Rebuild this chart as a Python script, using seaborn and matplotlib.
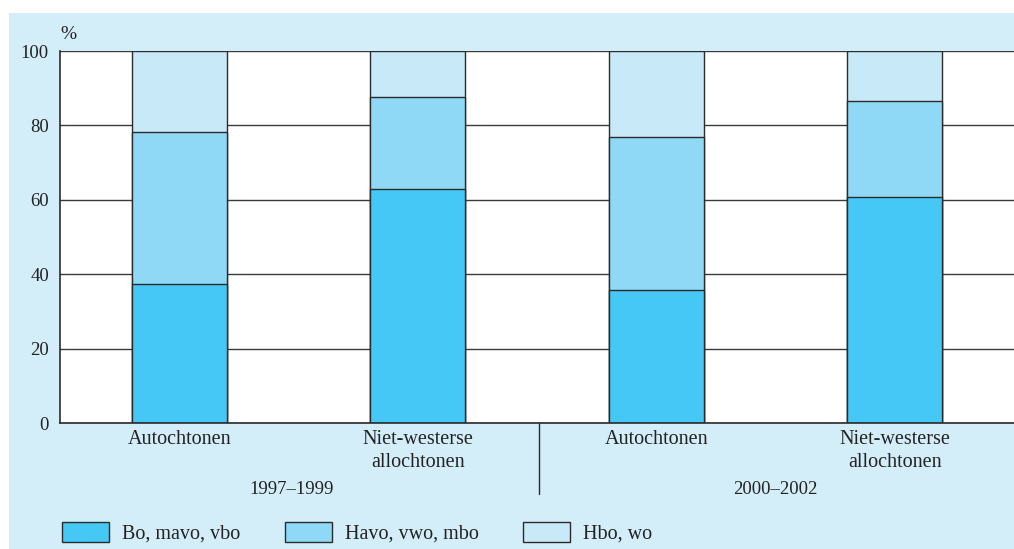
import seaborn as sns
import matplotlib.pyplot as plt
from matplotlib.patches import Patch, Rectangle
import pandas as pd

# data (percentages)
groepen = ["Autochtonen 97", "Niet-westerse 97", "Autochtonen 00", "Niet-westerse 00"]
tick_labels = ["Autochtonen", "Niet-westerse\nallochtonen", "Autochtonen", "Niet-westerse\nallochtonen"]
perioden = ["1997–1999", "2000–2002"]
bo_mavo_vbo = [37.3, 62.8, 35.7, 60.8]
havo_vwo_mbo = [41.0, 24.9, 41.2, 25.8]
hbo_wo = [21.7, 12.3, 23.1, 13.4]
reeksen = ["Bo, mavo, vbo", "Havo, vwo, mbo", "Hbo, wo"]
kleuren = ["#45c8f5", "#8fd9f7", "#c8e9f8"]

df = pd.DataFrame({"groep": groepen, "bo": bo_mavo_vbo, "havo": havo_vwo_mbo, "hbo": hbo_wo})
df["top1"] = df["bo"]
df["top2"] = df["bo"] + df["havo"]
df["top3"] = df["top2"] + df["hbo"]

sns.set_theme(style="white")
plt.rcParams["font.family"] = ["Liberation Serif", "DejaVu Serif"]
plt.rcParams["text.color"] = "#222222"

fig = plt.figure(figsize=(10.14, 5.49), dpi=100)
fig.patch.set_facecolor("white")
fig.patches.append(Rectangle((9 / 1014, 0), 1, 1 - 13 / 549, transform=fig.transFigure,
                             facecolor="#d4eef9", edgecolor="none", zorder=-5))
ax = fig.add_axes([60 / 1014, 1 - 423 / 549, 954 / 1014, 372 / 549])
ax.set_zorder(2)
ax.set_facecolor("white")

# stacked look: draw cumulative totals from tallest to shortest
for col, kleur in zip(["top3", "top2", "top1"], kleuren[::-1]):
    sns.barplot(data=df, x="groep", y=col, order=groepen, color=kleur, width=0.4,
                edgecolor="#2b2b2b", linewidth=1, saturation=1, ax=ax, zorder=2)

ax.set_xlim(-0.5, 3.5)
ax.set_ylim(0, 100)
ax.set_yticks([0, 20, 40, 60, 80, 100])
ax.yaxis.grid(True, color="#3a3a3a", linewidth=1)
ax.set_axisbelow(True)
for side in ["top", "right"]:
    ax.spines[side].set_visible(False)
for side in ["left", "bottom"]:
    ax.spines[side].set_color("#2b2b2b")
    ax.spines[side].set_linewidth(1.2)
ax.set_xticks(range(4))
ax.set_xticklabels(tick_labels, fontsize=14.5, linespacing=1.3)
ax.tick_params(axis="both", length=0, colors="#222222")
ax.tick_params(axis="y", pad=8, labelsize=13.5)
ax.tick_params(axis="x", pad=5)
ax.set_xlabel("")
ax.set_ylabel("")

ax.text(0.0, 1.045, "%", transform=ax.transAxes, fontsize=14, ha="left", va="center")

# period labels and separator
tr = ax.get_xaxis_transform()
ax.text(0.47, -0.18, perioden[0], transform=tr, ha="center", va="center", fontsize=13.5)
ax.text(2.5, -0.18, perioden[1], transform=tr, ha="center", va="center", fontsize=13.5)
ax.plot([1.51, 1.51], [0, -0.19], transform=tr, color="#2b2b2b", lw=1, clip_on=False)

handles = [Patch(facecolor=k, edgecolor="#2b2b2b", linewidth=1) for k in kleuren]
fig.legend(handles, reeksen, loc="center left", bbox_to_anchor=(44 / 1014, 1 - 533 / 549), ncol=3,
           frameon=False, fontsize=14.5, handlelength=2.33, handleheight=1.1,
           handletextpad=0.65, columnspacing=2.2)

fig.savefig("out.png", dpi=100)
